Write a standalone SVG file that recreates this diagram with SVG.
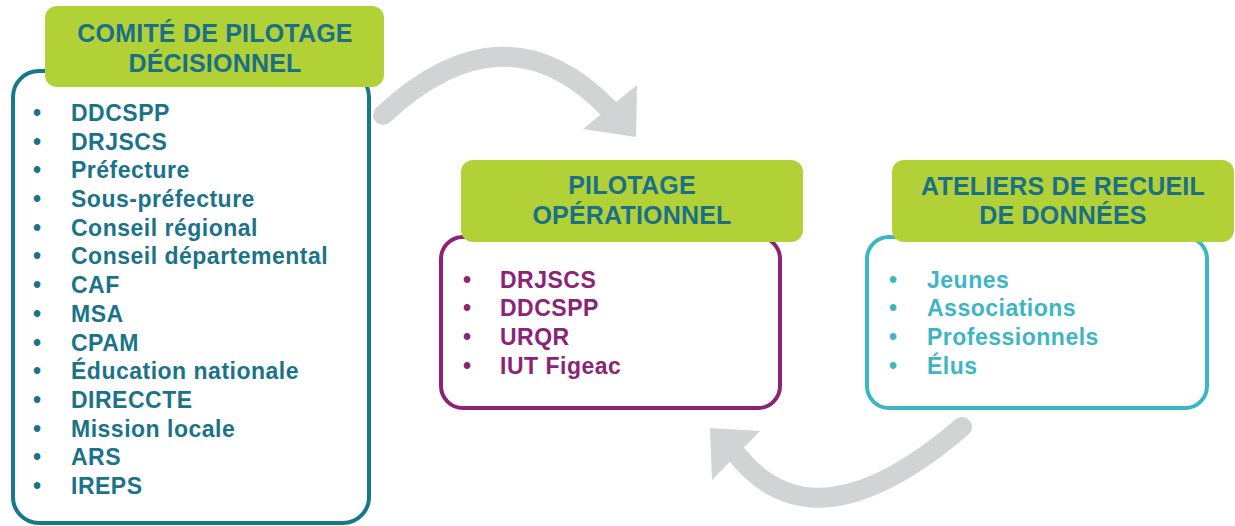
<svg xmlns="http://www.w3.org/2000/svg" width="1235" height="526" viewBox="0 0 1235 526">
<style>
.lbl{fill:#B1D137}
.title{font-family:"Liberation Sans",Arial,sans-serif;font-weight:bold;font-size:25px;letter-spacing:0.2px;fill:#1B7088;text-anchor:middle}
.item{font-family:"Liberation Sans",Arial,sans-serif;font-weight:bold;font-size:23px;letter-spacing:0.5px}
.teal{fill:#1B7389}
.purple{fill:#8C2376}
.cyan{fill:#3CB6C5}
.arrow{fill:none;stroke:#D1D3D4;stroke-width:20;stroke-linecap:round}
</style>
<g id="connectors">
<path class="arrow" d="M383,115 Q504,2 608,108"/>
<polygon points="637,85 583,129 636,137" fill="#D1D3D4"/>
<path class="arrow" d="M962,427 Q816,552 738,456"/>
<polygon points="710,428 760,431 712,480" fill="#D1D3D4"/>
</g>
<g id="node-comite">
<rect x="13" y="71" width="356" height="452" rx="26" fill="#fff" stroke="#17788A" stroke-width="4"/>
<rect class="lbl" x="45" y="6" width="339" height="81" rx="12"/>
<text class="title" x="215" y="42">COMITÉ DE PILOTAGE</text>
<text class="title" x="215" y="72">DÉCISIONNEL</text>
<g class="item teal">
<text x="33" y="121">•</text><text x="71" y="121">DDCSPP</text>
<text x="33" y="150">•</text><text x="71" y="150">DRJSCS</text>
<text x="33" y="178">•</text><text x="71" y="178">Préfecture</text>
<text x="33" y="207">•</text><text x="71" y="207">Sous-préfecture</text>
<text x="33" y="236">•</text><text x="71" y="236">Conseil régional</text>
<text x="33" y="264">•</text><text x="71" y="264">Conseil départemental</text>
<text x="33" y="293">•</text><text x="71" y="293">CAF</text>
<text x="33" y="322">•</text><text x="71" y="322">MSA</text>
<text x="33" y="351">•</text><text x="71" y="351">CPAM</text>
<text x="33" y="379">•</text><text x="71" y="379">Éducation nationale</text>
<text x="33" y="408">•</text><text x="71" y="408">DIRECCTE</text>
<text x="33" y="437">•</text><text x="71" y="437">Mission locale</text>
<text x="33" y="465">•</text><text x="71" y="465">ARS</text>
<text x="33" y="494">•</text><text x="71" y="494">IREPS</text>
</g>
</g>
<g id="node-pilotage">
<rect x="441" y="237" width="339" height="171" rx="22" fill="#fff" stroke="#8C2376" stroke-width="4"/>
<rect class="lbl" x="461" y="160" width="342" height="82" rx="12"/>
<text class="title" x="632" y="194">PILOTAGE</text>
<text class="title" x="632" y="224">OPÉRATIONNEL</text>
<g class="item purple">
<text x="463" y="288">•</text><text x="500" y="288">DRJSCS</text>
<text x="463" y="316">•</text><text x="500" y="316">DDCSPP</text>
<text x="463" y="345">•</text><text x="500" y="345">URQR</text>
<text x="463" y="374">•</text><text x="500" y="374">IUT Figeac</text>
</g>
</g>
<g id="node-ateliers">
<rect x="867" y="237" width="340" height="171" rx="22" fill="#fff" stroke="#3CB6C5" stroke-width="4"/>
<rect class="lbl" x="892" y="160" width="342" height="82" rx="12"/>
<text class="title" x="1063" y="195">ATELIERS DE RECUEIL</text>
<text class="title" x="1063" y="224">DE DONNÉES</text>
<g class="item cyan">
<text x="889" y="288">•</text><text x="927" y="288">Jeunes</text>
<text x="889" y="316">•</text><text x="927" y="316">Associations</text>
<text x="889" y="345">•</text><text x="927" y="345">Professionnels</text>
<text x="889" y="374">•</text><text x="927" y="374">Élus</text>
</g>
</g>
</svg>
